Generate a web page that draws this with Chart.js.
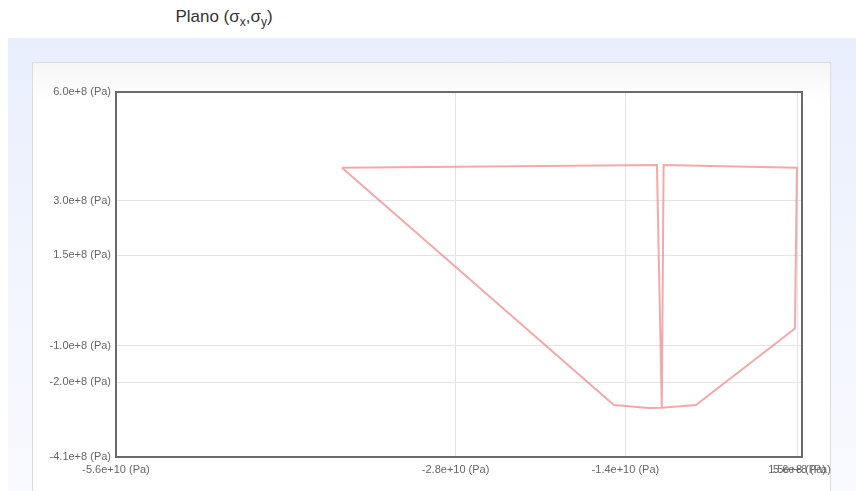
<!DOCTYPE html>
<html>
<head>
<meta charset="utf-8">
<script src="https://cdn.jsdelivr.net/npm/chart.js@4/dist/chart.umd.min.js"></script>
<style>
  html, body { margin: 0; padding: 0; background: #ffffff; width: 856px; height: 491px; overflow: hidden; font-family: "Liberation Sans", Arial, sans-serif; }
  #title { position: absolute; left: 0; top: 7px; width: 448px; text-align: center; font-size: 17px; color: #333; }
  #title sub { font-size: 12px; vertical-align: -4px; line-height: 0; }
  #panel { position: absolute; left: 8px; top: 38px; right: 0; bottom: 0; background: linear-gradient(#e8eefc, #f3f6fd 60%, #f7f9fe); }
  #card { position: absolute; left: 32px; top: 62px; width: 799px; height: 440px; background: linear-gradient(#f6f6f6, #ffffff 40px); border: 1px solid #dcdcdc; box-sizing: border-box; }
  #wrap { position: absolute; left: 32px; top: 62px; width: 800px; height: 429px; }
</style>
</head>
<body>
<div id="title">Plano (σ<sub>x</sub>,σ<sub>y</sub>)</div>
<div id="panel"></div>
<div id="card"></div>
<div id="wrap"><canvas id="c" width="800" height="429"></canvas></div>
<script>
// Data: stress path in (sigma_x, sigma_y) plane, Pa
const sigmaX = [-3.737e10, -1.140e10, -1.100e10, -1.085e10, 1.4e8, -2e7, -8.18e9, -1.100e10, -1.205e10, -1.495e10, -3.737e10];
const sigmaY = [3.91e8, 3.99e8, -2.69e8, 3.99e8, 3.91e8, -0.52e8, -2.63e8, -2.70e8, -2.71e8, -2.63e8, 3.91e8];

const xTickValues = [-5.6e10, -2.8e10, -1.4e10, 1.5e8, 5.6e8];
const xTickLabels = ["-5.6e+10 (Pa)", "-2.8e+10 (Pa)", "-1.4e+10 (Pa)", "1.5e+8 (Pa)", "5.6e+8 (Pa)"];
const yTickValues = [6.0e8, 3.0e8, 1.5e8, -1.0e8, -2.0e8, -4.06e8];
const yTickLabels = ["6.0e+8 (Pa)", "3.0e+8 (Pa)", "1.5e+8 (Pa)", "-1.0e+8 (Pa)", "-2.0e+8 (Pa)", "-4.1e+8 (Pa)"];

const points = sigmaX.map((x, i) => ({ x: x, y: sigmaY[i] }));

const frame = {
  id: 'frame',
  afterDraw(chart) {
    const a = chart.chartArea, ctx = chart.ctx;
    ctx.save();
    ctx.strokeStyle = '#6a6a6a';
    ctx.lineWidth = 2;
    ctx.strokeRect(a.left, a.top, a.right - a.left, a.bottom - a.top);
    ctx.restore();
  }
};

new Chart(document.getElementById('c'), {
  type: 'scatter',
  data: {
    datasets: [{
      data: points,
      showLine: true,
      borderColor: 'rgba(238,128,128,0.68)',
      borderWidth: 2,
      pointRadius: 0,
      tension: 0,
      fill: false
    }]
  },
  options: {
    responsive: false,
    animation: false,
    events: [],
    layout: { padding: { top: 30, right: 30, left: 0, bottom: 0 } },
    plugins: { legend: { display: false }, tooltip: { enabled: false }, title: { display: false } },
    scales: {
      x: {
        type: 'linear',
        min: -5.6e10,
        max: 5.6e8,
        afterBuildTicks: (s) => { s.ticks = xTickValues.map(v => ({ value: v })); },
        afterFit: (s) => { s.height = 34; s.paddingLeft = 0; s.paddingRight = 0; },
        ticks: {
          autoSkip: false,
          maxRotation: 0,
          padding: 6,
          color: '#666',
          font: { family: '"Liberation Sans", Arial, sans-serif', size: 11 },
          callback: (v) => { const i = xTickValues.indexOf(v); return i >= 0 ? xTickLabels[i] : ''; }
        },
        grid: { color: '#e4e4e4', lineWidth: 1, drawTicks: false },
        border: { display: false }
      },
      y: {
        type: 'linear',
        min: -4.06e8,
        max: 6.0e8,
        afterBuildTicks: (s) => { s.ticks = yTickValues.map(v => ({ value: v })); },
        afterFit: (s) => { s.width = 84; s.paddingTop = 0; s.paddingBottom = 0; },
        ticks: {
          autoSkip: false,
          padding: 5,
          color: '#666',
          font: { family: '"Liberation Sans", Arial, sans-serif', size: 11 },
          callback: (v) => { const i = yTickValues.indexOf(v); return i >= 0 ? yTickLabels[i] : ''; }
        },
        grid: { color: '#e4e4e4', lineWidth: 1, drawTicks: false },
        border: { display: false }
      }
    }
  },
  plugins: [frame]
});
</script>
</body>
</html>
